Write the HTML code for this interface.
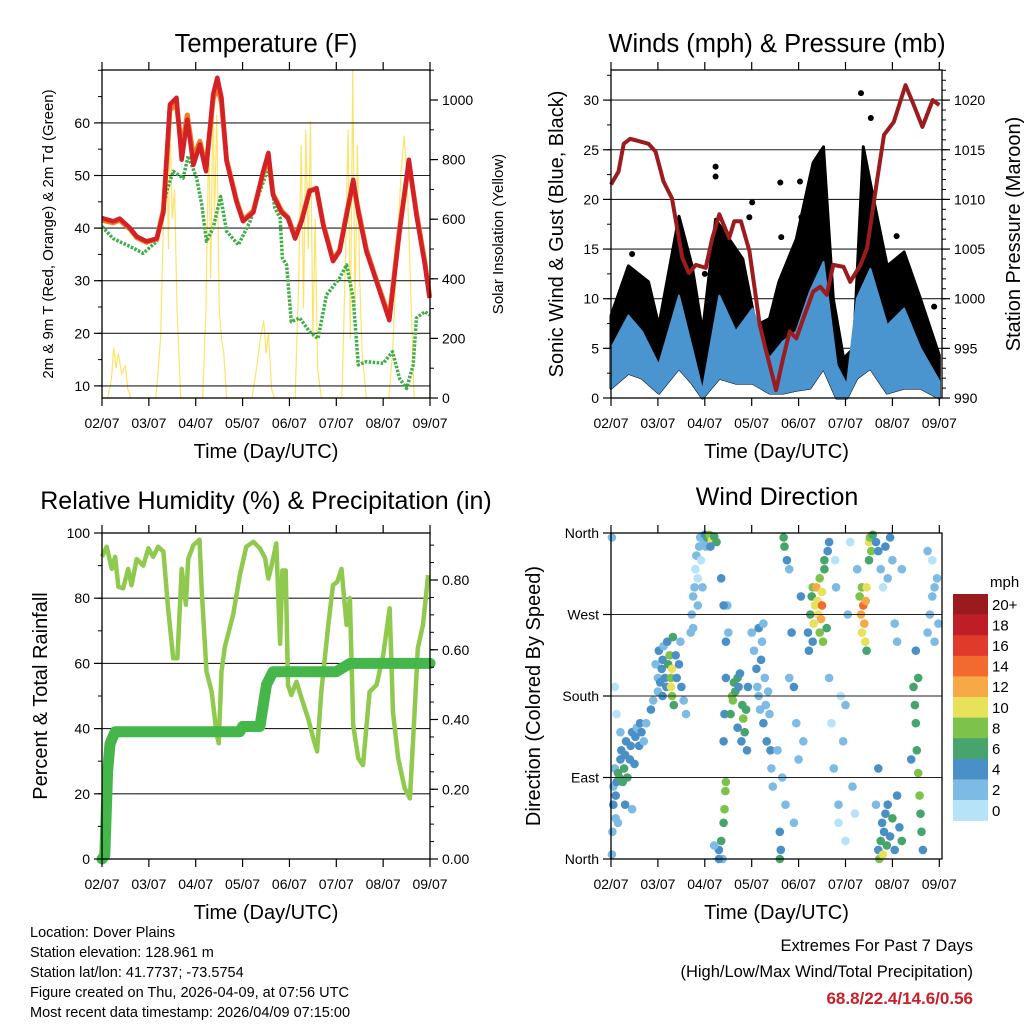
<!DOCTYPE html>
<html><head><meta charset="utf-8">
<style>
body{margin:0;background:#fff;}
svg{display:block;font-family:"Liberation Sans",sans-serif;}
</style></head>
<body>
<svg id="chart" width="1024" height="1024" viewBox="0 0 1024 1024"></svg>
<script>
// ---------- DATA ----------
const dayLabels = ["02/07","03/07","04/07","05/07","06/07","07/07","08/07","09/07"];
const tempTimes = [0,0.24,0.38,0.60,0.74,0.95,1.17,1.31,1.45,1.59,1.70,1.82,1.95,2.09,2.22,2.37,2.46,2.55,2.66,2.87,3.01,3.23,3.44,3.55,3.65,3.83,3.97,4.12,4.26,4.43,4.58,4.72,4.93,5.07,5.22,5.36,5.47,5.64,5.86,6.13,6.35,6.55,6.71,6.89,6.99];
const tempValues = [41.9,41.3,41.8,40,38.4,37.5,38,43,63.5,64.8,53,60.6,52,55.9,50.8,65.4,68.6,64.8,52.7,45,41.3,43,50.8,54.3,46.3,43,41.9,38,41.3,47,47.6,40.6,33.7,35.6,42.5,49.2,43,35.6,29.8,22.5,39.4,53,42.5,33,26.7];
const temp9Values = [41.5,41.0,41.5,39.8,38.2,37.3,37.9,43.5,62.5,63.5,55,61.5,53.5,56.5,51.5,64.5,67,63.8,53,45.3,41.5,43.3,50.5,53.5,46.5,43.3,42,38.3,41.5,47.2,47.3,40.8,34,35.8,42.8,48.5,43.5,36,30,23,40,52.3,43,33.5,27];
const dewTimes = [0,0.24,0.60,0.88,1.17,1.38,1.52,1.73,1.84,2.02,2.13,2.23,2.37,2.53,2.66,2.91,3.16,3.37,3.55,3.69,3.80,3.85,3.94,4.04,4.22,4.43,4.61,4.79,5.07,5.22,5.36,5.47,5.64,6.00,6.20,6.35,6.50,6.64,6.71,6.89,6.99];
const dewValues = [40.3,38,36.5,35.2,37.5,47,50.8,49.5,53.7,49.5,44.4,37.5,40,46,39.4,36.8,41.3,47,51.4,43.8,41.9,34.3,33,22.2,22.9,20.3,19,27.3,30.5,33,26.7,14,14.6,14.3,16.5,11.4,9.5,14,22.9,24.1,23.5];
const solarTimes = [0,0.12,0.2,0.25,0.3,0.35,0.42,0.5,0.55,0.62,1.15,1.25,1.32,1.38,1.42,1.45,1.5,1.55,1.6,1.68,2.15,2.22,2.28,2.32,2.37,2.4,2.45,2.5,2.55,2.6,2.66,3.2,3.3,3.38,3.45,3.5,3.55,3.62,3.68,4.12,4.2,4.25,4.3,4.35,4.4,4.45,4.5,4.55,4.6,4.68,5.12,5.2,5.25,5.3,5.35,5.4,5.45,5.5,5.55,5.64,6.12,6.2,6.3,6.38,6.45,6.52,6.6,6.66,7];
const solarValues = [0,0,60,170,100,150,80,110,30,0,0,200,650,850,500,940,600,700,300,0,0,300,900,400,1020,600,950,300,200,150,0,0,100,200,260,150,220,30,0,0,400,850,300,900,500,930,200,600,100,0,0,500,900,200,1100,300,850,400,150,0,0,150,500,750,880,700,300,0,0];

const presTimes = [0,0.16,0.27,0.41,0.80,0.95,1.12,1.30,1.52,1.66,1.81,2.02,2.16,2.31,2.52,2.63,2.77,2.95,3.17,3.31,3.52,3.67,3.81,3.95,4.10,4.31,4.46,4.60,4.74,4.96,5.10,5.32,5.46,5.67,5.82,6.03,6.28,6.43,6.64,6.86,7];
const presValues = [1011.5,1012.8,1015.6,1016.1,1015.6,1014.8,1011.8,1010.1,1004.1,1002.6,1003.4,1003.1,1006.1,1008.5,1006.1,1007.8,1007.8,1004.8,997.4,994.7,990.8,994,996.7,996,998,1000.7,1001.2,1000.4,1003.4,1003.2,1001.7,1003.4,1005.1,1011.8,1016.5,1017.8,1021.5,1019.8,1017.3,1020,1019.5];
const windTimes = [0,0.37,0.66,1.02,1.45,1.73,1.95,2.31,2.66,3.02,3.38,3.67,3.95,4.24,4.53,4.81,5.03,5.24,5.53,5.89,6.25,6.60,7];
const windUpper = [5,8.3,6.7,3.3,10.3,5,0.7,10.3,6.7,9,4,5.7,6.7,10.7,13.7,3.3,1.3,10,13,7.3,9,5,1.7];
const windLower = [1,2.5,2,0.5,3,1.5,0,2,1.5,1.5,0.5,0.5,0.8,1,3,0,0,2,3,0.5,1,1,0];
const gustTimes = [0,0.37,0.80,1.02,1.45,1.73,1.95,2.23,2.52,2.81,3.09,3.38,3.58,3.95,4.31,4.53,4.74,4.96,5.17,5.38,5.60,5.89,6.25,6.60,7];
const gustUpper = [8.3,13.3,11.7,7.3,18.3,13.3,6.7,18,16,14,7.3,8,11.7,16,23.7,25.3,10,4,5,25.3,20,13.3,14.7,10,4.3];
const gustOutT = [2.23,2.23,3.01,2.95,3.61,4.03,5.33,5.54,6.09,6.89,3.63,4.06,0.45,1.5,2.0];
const gustOutV = [23.3,22.3,19.7,18.2,21.7,21.8,30.7,28.2,16.3,9.2,16.2,18.2,14.5,14,12.5];

const rhTimes = [0,0.10,0.21,0.28,0.35,0.45,0.56,0.63,0.74,0.88,0.99,1.09,1.20,1.31,1.41,1.52,1.61,1.70,1.79,1.84,1.95,2.08,2.13,2.23,2.34,2.44,2.49,2.55,2.62,2.80,2.94,3.08,3.23,3.37,3.48,3.55,3.62,3.72,3.80,3.85,3.92,3.97,4.04,4.15,4.26,4.40,4.51,4.59,4.68,4.83,4.93,5.02,5.11,5.22,5.29,5.36,5.47,5.57,5.71,5.86,6.00,6.14,6.21,6.32,6.46,6.57,6.67,6.74,6.85,6.96];
const rhValues = [92.7,95.8,89,92.7,83.5,83,89,84,92,90,95.3,92.7,95.8,94.3,76.9,61.6,61.6,89,78,92,96.3,97.9,82,57.5,51.3,39,35.5,57.5,65,75,87,95.8,97.3,95.3,92.3,86,90,96.8,66,88.5,88.5,53.4,50.3,54.4,49.3,43,37,33,51.3,71.8,84,85,89,71.8,80,41,30.9,28.8,51.3,53.4,62.6,76.9,45,30.9,21.7,18.6,45,64.6,71.8,87.1];
const rainTimes = [0,0.06,0.12,0.17,0.28,2.94,3.0,3.37,3.51,3.65,5.0,5.29,7];
const rainValues = [0,0.01,0.25,0.33,0.365,0.365,0.38,0.38,0.50,0.537,0.537,0.561,0.561];

const dirTimes = [0.02,0.02,0.03,0.05,0.05,0.08,0.1,0.12,0.15,0.18,0.2,0.22,0.25,0.28,0.3,0.32,0.35,0.4,0.42,0.45,0.5,0.52,0.55,0.6,0.62,0.65,0.7,0.75,0.45,0.3,0.15,0.1,0.2,0.08,0.12,
0.95,1.0,1.0,1.02,1.05,1.08,1.1,1.1,1.12,1.15,1.18,1.2,1.22,1.25,1.28,1.28,1.3,1.3,1.32,1.34,1.38,1.4,1.45,1.48,1.5,1.55,1.6,0.85,0.9,
1.7,1.72,1.75,1.78,1.8,1.82,1.85,1.88,1.9,1.92,1.95,1.98,1.75,1.85,2.0,2.02,
2.05,2.1,2.15,2.2,2.25,2.12,
2.3,2.35,2.38,2.4,2.42,2.44,2.45,2.4,2.42,2.45,2.45,2.5,2.48,2.35,2.4,2.2,2.3,
2.55,2.58,2.6,2.62,2.65,2.7,2.72,2.75,2.8,2.82,2.85,2.88,2.9,2.92,2.7,2.78,
3.0,3.05,3.1,3.12,3.15,3.18,3.2,3.22,3.25,3.28,3.3,3.32,3.35,3.38,3.4,3.42,3.45,3.15,3.25,
3.6,3.62,3.7,3.68,3.75,3.8,3.85,3.9,3.95,4.0,4.05,3.6,3.55,3.65,3.72,3.8,3.9,4.1,
4.25,4.28,4.3,4.32,4.35,4.38,4.4,4.42,4.45,4.45,4.48,4.5,4.5,4.52,4.55,4.55,4.2,4.22,4.3,4.6,4.62,4.65,
4.65,4.7,4.75,4.78,4.8,4.85,4.9,4.95,5.0,5.05,5.1,5.15,5.2,5.25,4.85,5.0,
5.3,5.33,5.35,5.35,5.38,5.4,5.42,5.43,5.45,5.45,5.5,5.52,5.55,5.5,5.58,
5.65,5.7,5.75,5.8,5.85,5.9,5.95,6.0,6.05,6.1,6.2,5.7,5.72,5.75,5.78,5.8,5.82,5.85,5.88,5.9,5.95,6.0,6.05,6.1,6.15,6.2,5.65,5.7,
6.45,6.48,6.5,6.52,6.55,6.58,6.6,6.62,6.65,6.5,6.55,6.4,6.75,6.8,6.85,6.9,6.95,6.98,6.85,6.9,6.75];
const dirValues = [355,5,30,60,80,100,70,85,95,90,110,120,85,100,115,130,90,110,125,140,105,135,145,125,150,140,130,150,55,60,40,45,140,190,160,
215,200,185,230,195,210,220,180,235,200,190,240,215,225,200,190,180,210,245,170,225,200,215,240,190,175,160,165,175,
250,270,290,300,320,335,310,345,355,330,300,350,255,280,358,345,
355,358,352,356,350,345,
10,20,0,40,55,75,85,130,160,200,240,250,280,310,280,15,0,
160,180,175,195,185,200,190,205,170,155,140,165,120,190,145,130,
250,230,210,190,180,165,220,240,150,200,170,130,185,160,120,100,80,255,260,
0,10,345,355,330,320,250,190,150,110,290,30,120,90,60,200,40,130,
270,290,300,260,280,300,285,270,250,310,265,280,295,240,320,330,250,230,240,255,340,350,
200,150,100,330,300,40,180,130,20,270,350,80,50,320,60,170,
290,270,250,300,280,260,240,285,300,230,350,355,340,330,358,
350,340,320,300,345,310,355,330,260,240,320,10,0,20,40,5,30,50,15,60,25,45,10,70,35,20,60,100,
190,170,150,120,95,70,50,30,10,230,200,110,250,270,290,300,310,260,330,240,340];
const dirSpeeds = [2,3,2,4,3,2,4,5,6,7,5,4,6,7,5,4,6,5,4,5,5,4,3,5,4,4,3,2,3,4,3,2,2,1,1,
3,3,2,4,4,5,4,5,3,5,4,4,7,8,9,10,9,10,7,6,4,5,4,2,4,3,2,4,3,
2,3,2,3,1,2,1,2,3,1,2,3,3,2,4,3,
6,8,10,7,6,5,
4,6,3,7,8,9,8,5,4,5,4,3,2,4,4,2,4,
7,8,9,7,6,6,5,4,7,8,7,6,4,5,4,5,
3,2,4,2,3,2,4,3,4,3,2,4,3,2,4,3,2,4,3,
7,5,7,6,4,2,5,4,3,3,4,4,3,2,3,2,2,3,
7,6,9,10,11,12,10,10,8,9,12,14,10,8,7,6,5,4,4,6,5,4,
2,1,2,1,2,1,1,2,1,2,1,2,1,3,2,2,
8,12,10,9,14,13,11,12,10,6,10,9,8,7,6,
4,5,3,1,4,3,4,2,3,2,3,5,8,6,5,10,4,5,6,4,5,6,4,5,4,6,3,4,
7,6,7,6,8,8,7,6,5,4,6,4,2,3,2,2,3,2,1,2,2];
const speedLabels = ["0","2","4","6","8","10","12","14","16","18","20+"];
const speedColors = ["#b6e3f8","#7dbbe4","#4a8fc6","#47a46c","#7cc24b","#e8e15a","#f7a947","#f26a2e","#df3a2b","#c01e27","#9a1a1e"];

// ---------- HELPERS ----------
const NS="http://www.w3.org/2000/svg";
const svg=document.getElementById('chart');
function mk(tag,attrs,parent){const e=document.createElementNS(NS,tag);for(const k in attrs)e.setAttribute(k,attrs[k]);(parent||svg).appendChild(e);return e;}
function txt(s,x,y,size,anchor,parent,extra){const t=mk('text',Object.assign({x:x,y:y,'font-size':size,'text-anchor':anchor||'middle',fill:'#000'},extra||{}),parent);t.textContent=s;return t;}
function pathOf(ts,vs,fx,fy){let d='';for(let i=0;i<ts.length;i++)d+=(i?'L':'M')+fx(ts[i]).toFixed(1)+','+fy(vs[i]).toFixed(1);return d;}

function frame(g,p){
  mk('rect',{x:p.x0,y:p.y0,width:p.x1-p.x0,height:p.y1-p.y0,fill:'none',stroke:'#000','stroke-width':1.3},g);
  const xt=mk('g',{},g);
  
  
  for(let i=0;i<dayLabels.length;i++){
    const x=p.fx(i);
    mk('line',{x1:x,y1:p.y1,x2:x,y2:p.y1+8,stroke:'#000','stroke-width':1.2},xt);
    mk('line',{x1:x,y1:p.y0,x2:x,y2:p.y0-8,stroke:'#000','stroke-width':1.2},xt);
    const t=txt(dayLabels[i],x,p.y1+30,14,'middle',xt);
    
    
  }
  const xl=txt('Time (Day/UTC)',(p.x0+p.x1)/2,p.y1+60,20,'middle',g);
  
  
}
function grid(g,p,vals,fy){
  for(const v of vals){const y=fy(v);mk('line',{x1:p.x0,y1:y,x2:p.x1,y2:y,stroke:'#222','stroke-width':1.1},g);}
}
function leftTicks(g,p,vals,fy,labels,minor){
  for(let i=0;i<vals.length;i++){const y=fy(vals[i]);mk('line',{x1:p.x0,y1:y,x2:p.x0-8,y2:y,stroke:'#000','stroke-width':1.2},g);
    const t=txt(labels[i],p.x0-12,y+5,14,'end',g);
    
    }
  for(const v of (minor||[])){const y=fy(v);mk('line',{x1:p.x0,y1:y,x2:p.x0-4,y2:y,stroke:'#000'},g);}
}
function rightTicks(g,p,vals,fy,labels,minor){
  for(let i=0;i<vals.length;i++){const y=fy(vals[i]);mk('line',{x1:p.x1,y1:y,x2:p.x1+8,y2:y,stroke:'#000','stroke-width':1.2},g);
    const t=txt(labels[i],p.x1+12,y+5,14,'start',g);
    
    }
  for(const v of (minor||[])){const y=fy(v);mk('line',{x1:p.x1,y1:y,x2:p.x1+4,y2:y,stroke:'#000'},g);}
}
function range(a,b,s){const r=[];for(let v=a;v<=b+1e-9;v+=s)r.push(+v.toFixed(4));return r;}

// ---------- PANEL 1: TEMPERATURE ----------
(function(){
  const g=mk('g',{});
  
  
  const p={x0:102,x1:430,y0:70,y1:398};
  p.fx=d=>102+d*46.86;
  const fy=v=>398-(v-7.7)*5.26;
  const fs=s=>398-s*0.298;
  const sol=mk('path',{d:pathOf(solarTimes,solarValues,p.fx,fs),fill:'none',stroke:'#fde36a','stroke-width':1.2},g);
  
  
  grid(g,p,range(10,60,10),fy);
  const dew=mk('path',{d:pathOf(dewTimes,dewValues,p.fx,fy),fill:'none',stroke:'#3fae49','stroke-width':3.5,'stroke-dasharray':'2.5 1.5','stroke-linejoin':'round'},g);
  
  
  const t9=mk('path',{d:pathOf(tempTimes,temp9Values,p.fx,fy),fill:'none',stroke:'#f47b20','stroke-width':5,'stroke-linejoin':'round'},g);
  
  
  const t2=mk('path',{d:pathOf(tempTimes,tempValues,p.fx,fy),fill:'none',stroke:'#d42027','stroke-width':4.5,'stroke-linejoin':'round'},g);
  
  
  frame(g,p);
  leftTicks(g,p,range(10,60,10),fy,['10','20','30','40','50','60'],range(10,70,5));
  rightTicks(g,p,range(0,1000,200),fs,['0','200','400','600','800','1000'],range(0,1100,100));
  const ti=txt('Temperature (F)',266,52,25.5,'middle',g);
  
  
  const yl=txt('2m & 9m T (Red, Orange) & 2m Td (Green)',0,0,15,'middle',g,{transform:'translate(53,234) rotate(-90)'});
  
  
  const yr=txt('Solar Insolation (Yellow)',0,0,15,'middle',g,{transform:'translate(503,234) rotate(-90)'});
  
  
})();

// ---------- PANEL 2: WINDS ----------
(function(){
  const g=mk('g',{});
  
  
  const p={x0:611,x1:942,y0:70,y1:398};
  p.fx=d=>611+d*46.9;
  const fy=v=>398-v*9.93;
  const fp=v=>398-(v-990)*9.93;
  grid(g,p,range(5,30,5),fy);
  let d=pathOf(gustTimes,gustUpper,p.fx,fy);
  for(let i=windTimes.length-1;i>=0;i--)d+='L'+p.fx(windTimes[i]).toFixed(1)+','+fy(windLower[i]).toFixed(1);
  const gb=mk('path',{d:d+'Z',fill:'#000',stroke:'#000','stroke-width':3,'stroke-linejoin':'round'},g);
  
  
  for(let i=0;i<gustOutT.length;i++){
    const c=mk('circle',{cx:p.fx(gustOutT[i]),cy:fy(gustOutV[i]),r:3,fill:'#000'},g);
    
    
  }
  let d2=pathOf(windTimes,windUpper,p.fx,fy);
  for(let i=windTimes.length-1;i>=0;i--)d2+='L'+p.fx(windTimes[i]).toFixed(1)+','+fy(windLower[i]).toFixed(1);
  const wb=mk('path',{d:d2+'Z',fill:'#4a94cf',stroke:'#4a94cf','stroke-width':2,'stroke-linejoin':'round'},g);
  
  
  const pl=mk('path',{d:pathOf(presTimes,presValues,p.fx,fp),fill:'none',stroke:'#9b1b1e','stroke-width':4,'stroke-linejoin':'round'},g);
  
  
  frame(g,p);
  leftTicks(g,p,range(0,30,5),fy,['0','5','10','15','20','25','30'],range(0,33,2.5));
  rightTicks(g,p,range(990,1020,5),fp,['990','995','1000','1005','1010','1015','1020'],range(990,1023,1));
  const ti=txt('Winds (mph) & Pressure (mb)',777,52,25.5,'middle',g);
  
  
  const yl=txt('Sonic Wind & Gust (Blue, Black)',0,0,20,'middle',g,{transform:'translate(563,234) rotate(-90)'});
  
  
  const yr=txt('Station Pressure (Maroon)',0,0,20,'middle',g,{transform:'translate(1020,234) rotate(-90)'});
  
  
})();

// ---------- PANEL 3: RH & PRECIP ----------
(function(){
  const g=mk('g',{});
  
  
  const p={x0:102,x1:430,y0:533,y1:859};
  p.fx=d=>102+d*46.86;
  const fy=v=>859-v*3.26;
  const fr=v=>859-v*348.75;
  grid(g,p,range(20,80,20),fy);
  const rh=mk('path',{d:pathOf(rhTimes,rhValues,p.fx,fy),fill:'none',stroke:'#8fc94e','stroke-width':4.5,'stroke-linejoin':'round'},g);
  
  
  const rn=mk('path',{d:pathOf(rainTimes,rainValues,p.fx,fr),fill:'none',stroke:'#45b649','stroke-width':11,'stroke-linejoin':'round','stroke-linecap':'round'},g);
  
  
  frame(g,p);
  leftTicks(g,p,range(0,100,20),fy,['0','20','40','60','80','100'],range(0,100,10));
  rightTicks(g,p,range(0,0.8,0.2),fr,['0.00','0.20','0.40','0.60','0.80'],range(0,0.9,0.05));
  const ti=txt('Relative Humidity (%) & Precipitation (in)',266,509,25,'middle',g);
  
  
  const yl=txt('Percent & Total Rainfall',0,0,20,'middle',g,{transform:'translate(47,696) rotate(-90)'});
  
  
})();

// ---------- PANEL 4: WIND DIRECTION ----------
(function(){
  const g=mk('g',{});
  
  
  const p={x0:611,x1:942,y0:533,y1:859};
  p.fx=d=>611+d*46.9;
  const fy=v=>859-v*326/360;
  const colorFor=s=>speedColors[Math.min(10,Math.floor(s/2))];
  const dots=mk('g',{},g);
  for(let i=0;i<dirTimes.length;i++){
    const c=mk('circle',{cx:p.fx(dirTimes[i]).toFixed(1),cy:fy(dirValues[i]).toFixed(1),r:4.3,fill:colorFor(dirSpeeds[i])},dots);
    
    
  }
  grid(g,p,[90,180,270],fy);
  frame(g,p);
  leftTicks(g,p,[0,90,180,270,360],fy,['North','East','South','West','North'],[]);
  const ti=txt('Wind Direction',777,505,25,'middle',g);
  
  
  const yl=txt('Direction (Colored By Speed)',0,0,20,'middle',g,{transform:'translate(540,696) rotate(-90)'});
  
  
  const cb=mk('g',{},g);
  
  
  const ch=20.6, top=594;
  for(let i=0;i<speedColors.length;i++){
    const k=speedColors.length-1-i;
    const y=top+i*ch;
    const r=mk('rect',{x:953,y:y,width:35,height:ch+0.3,fill:speedColors[k]},cb);
    
    
    const t=txt(speedLabels[k],992,y+ch/2+5.5,15,'start',cb);
    
    
  }
  const u=txt('mph',990,587,15,'start',cb);
  
  
})();

// ---------- FOOTER TEXT ----------
(function(){
  const g=mk('g',{});
  
  
  const lines=['Location: Dover Plains','Station elevation: 128.961 m','Station lat/lon: 41.7737; -73.5754','Figure created on Thu, 2026-04-09, at 07:56 UTC','Most recent data timestamp: 2026/04/09 07:15:00'];
  lines.forEach((s,i)=>{const t=txt(s,30,937+i*20,14.5,'start',g);
    
    });
  const e=mk('g',{});
  
  
  const a=txt('Extremes For Past 7 Days',973,951,16.5,'end',e);
  
  
  const b=txt('(High/Low/Max Wind/Total Precipitation)',973,977,16.5,'end',e);
  
  
  const c=txt('68.8/22.4/14.6/0.56',973,1004,17,'end',e,{fill:'#c8202a','font-weight':'bold'});
  
  
})();
</script>
</body></html>
